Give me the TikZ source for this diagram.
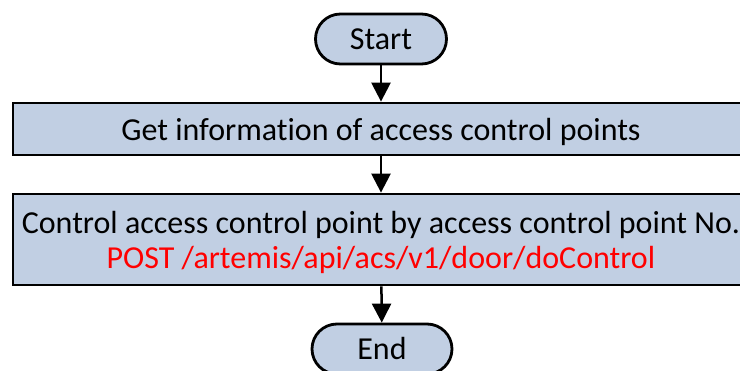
\documentclass[tikz,border=0pt]{standalone}
\usepackage{fontspec}
\setmainfont{Carlito}[Ligatures=NoCommon]
\usetikzlibrary{arrows.meta}
\definecolor{boxblue}{RGB}{193,207,227}

\begin{document}
\begin{tikzpicture}[x=1pt,y=1pt,
  terminal/.style={draw=black, line width=2.8pt, fill=boxblue, rounded corners=25pt,
    minimum width=131pt, minimum height=50pt, inner sep=0pt, font=\fontsize{32}{38}\selectfont},
  process/.style={draw=black, line width=2.8pt, fill=boxblue, minimum width=736pt,
    inner sep=0pt, align=center, font=\fontsize{32}{37}\selectfont},
  flow/.style={line width=2.5pt, -{Triangle[length=19pt,width=19pt]}}]
  \clip (0,0) rectangle (740,-371);
  \useasboundingbox (0,0) rectangle (740,-371);
  \node[terminal] (start) at (381,-39) {Start};
  \node[process, minimum height=52pt] (getinfo) at (381,-129)
    {\raisebox{-3pt}[\height][\depth]{Get information of access control points}};
  \node[process, minimum height=91pt] (control) at (381,-239.5)
    {\raisebox{-3pt}[\height][\depth]{\shortstack{Control access control point by access control point No.\\[5pt]
     \textcolor{red}{POST /artemis/api/acs/v1/door/doControl}}}};
  \node[terminal, minimum width=140pt] (end) at (382,-349) {End};
  \draw[flow] (start) -- (getinfo);
  \draw[flow] (getinfo) -- (control);
  \draw[flow] (control) -- (end);
\end{tikzpicture}
\end{document}
